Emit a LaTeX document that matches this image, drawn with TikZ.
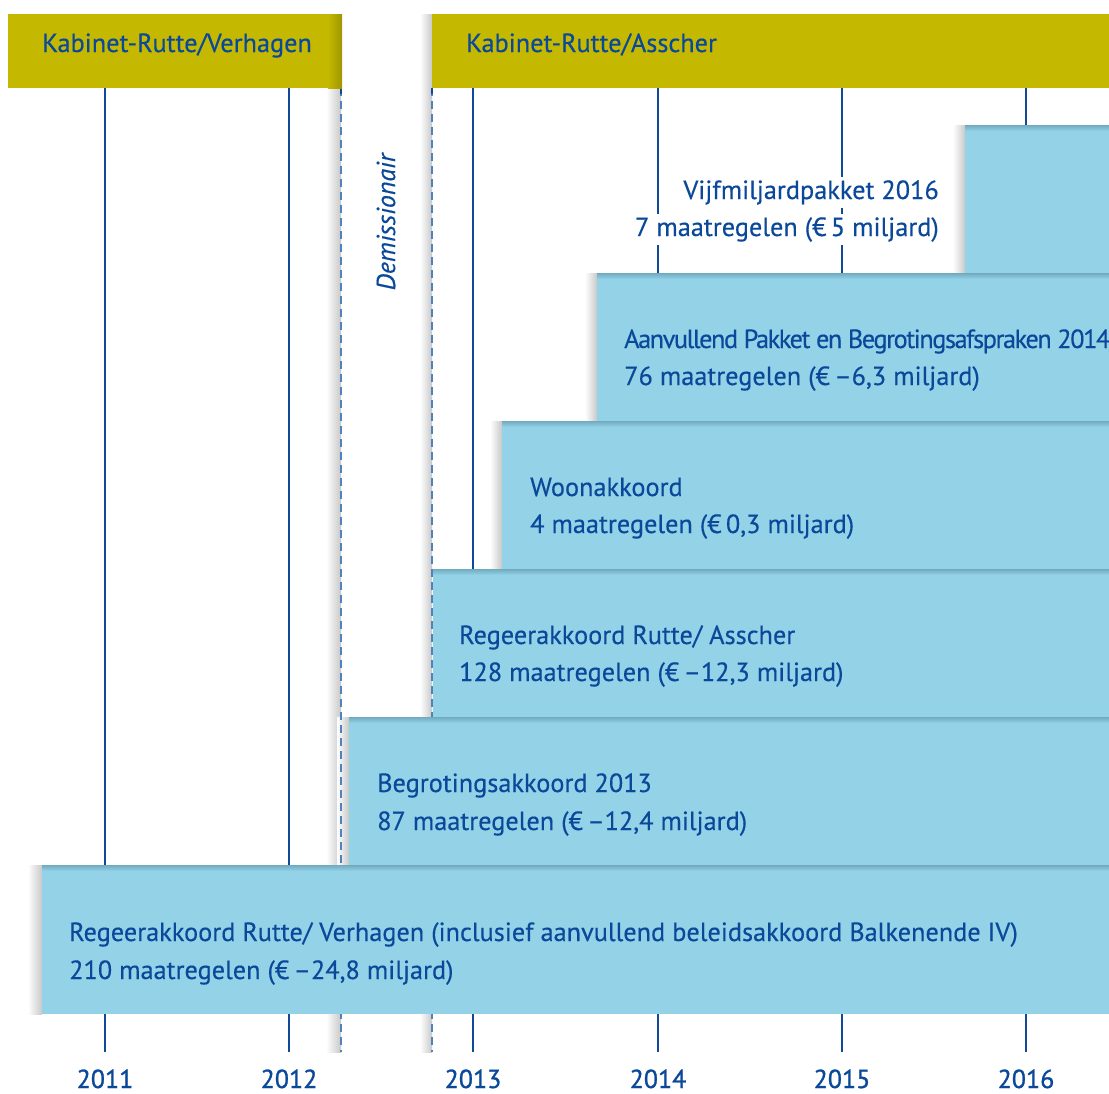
\documentclass[tikz,border=0pt]{standalone}
\usepackage{fontspec}
\setmainfont{PT Sans}[FakeBold=0.35]
\usetikzlibrary{calc}
\definecolor{olive}{RGB}{196,184,0}
\definecolor{olivedark}{RGB}{160,150,0}
\definecolor{boxblue}{RGB}{148,210,232}
\definecolor{boxdark}{RGB}{112,170,190}
\definecolor{txtblue}{RGB}{10,72,154}
\definecolor{lineblue}{RGB}{18,72,152}
\definecolor{dashblue}{RGB}{80,130,190}
\definecolor{shadowgray}{RGB}{200,200,200}
\tikzset{
  txt/.style={text=txtblue, font=\fontsize{26.3}{30}\selectfont, inner sep=0pt, anchor=base west},
  yearlbl/.style={text=txtblue, font=\fontsize{26}{30}\selectfont\addfontfeature{FakeBold=1}, inner sep=0pt, anchor=base},
  yline/.style={draw=lineblue, line width=2pt},
  dline/.style={draw=dashblue, line width=2pt, dash pattern=on 8pt off 5pt},
  boxfill/.style={fill=boxblue},
}
\begin{document}
\begin{tikzpicture}[x=1pt,y=-1pt]
\useasboundingbox (0,0) rectangle (1109,1093);
\clip (0,0) rectangle (1109,1093);
\fill[white] (0,0) rectangle (1109,1093);
% shadows of the dashed lines
\shade[left color=white, right color=shadowgray] (326,88) rectangle (341,1052);
\shade[left color=white, right color=shadowgray] (420,14) rectangle (432,1052);
% box shadows
\shade[left color=white, right color=shadowgray] (953,125) rectangle (965,273);
\shade[left color=white, right color=shadowgray] (585,273) rectangle (597,421);
\shade[left color=white, right color=shadowgray] (490,421) rectangle (502,569);
\shade[left color=white, right color=shadowgray] (337,717) rectangle (349,865);
\shade[left color=white, right color=shadowgray] (28,865) rectangle (42,1014);
% year lines
\coordinate (t1) at (105,88);  \coordinate (b1) at (105,1052);
\coordinate (t2) at (289,88);  \coordinate (b2) at (289,1052);
\coordinate (t3) at (473,88);  \coordinate (b3) at (473,1052);
\coordinate (t4) at (658,88);  \coordinate (b4) at (658,1052);
\coordinate (t5) at (842,88);  \coordinate (b5) at (842,1052);
\coordinate (t6) at (1026,88); \coordinate (b6) at (1026,1052);
\foreach \i in {1,...,6}{\draw[yline] (t\i) -- (b\i);}
% dashed lines
\coordinate (d1t) at (341,88); \coordinate (d1b) at (341,1052);
\coordinate (d2t) at (432,88); \coordinate (d2b) at (432,1052);
\draw[dline] (d1t) -- (d1b);
\draw[dline] (d2t) -- (d2b);
\draw[lineblue, line width=2pt] (341,88) -- (341,94);
\draw[lineblue, line width=2pt] (432,88) -- (432,94);
% boxes
\fill[boxfill] (965,125) rectangle (1109,273);
\fill[boxfill] (597,273) rectangle (1109,421);
\fill[boxfill] (502,421) rectangle (1109,569);
\fill[boxfill] (433,569) rectangle (1109,717);
\fill[boxfill] (349,717) rectangle (1109,865);
\fill[boxfill] (42,865) rectangle (1109,1014);
% top edges
\foreach \xl/\yt in {965/125,597/273,502/421,433/569,349/717,42/865}{
  \shade[top color=boxdark, bottom color=boxblue] (\xl,\yt) rectangle (1109,\yt+6);
}
% header bars
\fill[olive] (8,14) rectangle (342,88);
\shade[left color=olive, right color=olivedark] (328,14) rectangle (342,88);
\fill[olive] (432,14) rectangle (1109,88);
\node[txt] (h1) at (42,52) {Kabinet-Rutte/Verhagen};
\node[txt] (h2) at (466,52) {Kabinet-Rutte/Asscher};
% demissionair
\node[text=txtblue, font=\fontsize{26}{30}\selectfont\itshape, inner sep=0pt, rotate=90] (dem) at (386,222) {Demissionair};
% box texts
\node[txt, anchor=base east, fill=white, inner xsep=3pt, inner ysep=3pt] (v1) at (942,199) {Vijfmiljardpakket 2016};
\node[txt, anchor=base east, fill=white, inner xsep=3pt, inner ysep=3pt] (v2) at (942,236) {7 maatregelen (€\,5 miljard)};
\node[txt, font=\fontsize{26.3}{30}\selectfont\addfontfeature{LetterSpace=-5.5}] (a1) at (624,348) {Aanvullend Pakket en Begrotingsafspraken 2014};
\node[txt] (a2) at (624,385) {76 maatregelen (€\,–6,3 miljard)};
\node[txt] (w1) at (530,496) {Woonakkoord};
\node[txt] (w2) at (530,533) {4 maatregelen (€\,0,3 miljard)};
\node[txt] (r1) at (459,644) {Regeerakkoord Rutte/ Asscher};
\node[txt] (r2) at (459,681) {128 maatregelen (€\,–12,3 miljard)};
\node[txt] (g1) at (377,792) {Begrotingsakkoord 2013};
\node[txt] (g2) at (377,830) {87 maatregelen (€\,–12,4 miljard)};
\node[txt] (rv1) at (69,941) {Regeerakkoord Rutte/ Verhagen (inclusief aanvullend beleidsakkoord Balkenende IV)};
\node[txt] (rv2) at (69,979) {210 maatregelen (€\,–24,8 miljard)};
% years
\node[yearlbl] (y1) at (105,1088) {2011};
\node[yearlbl] (y2) at (289,1088) {2012};
\node[yearlbl] (y3) at (473,1088) {2013};
\node[yearlbl] (y4) at (658,1088) {2014};
\node[yearlbl] (y5) at (842,1088) {2015};
\node[yearlbl] (y6) at (1026,1088) {2016};
\end{tikzpicture}
\end{document}
